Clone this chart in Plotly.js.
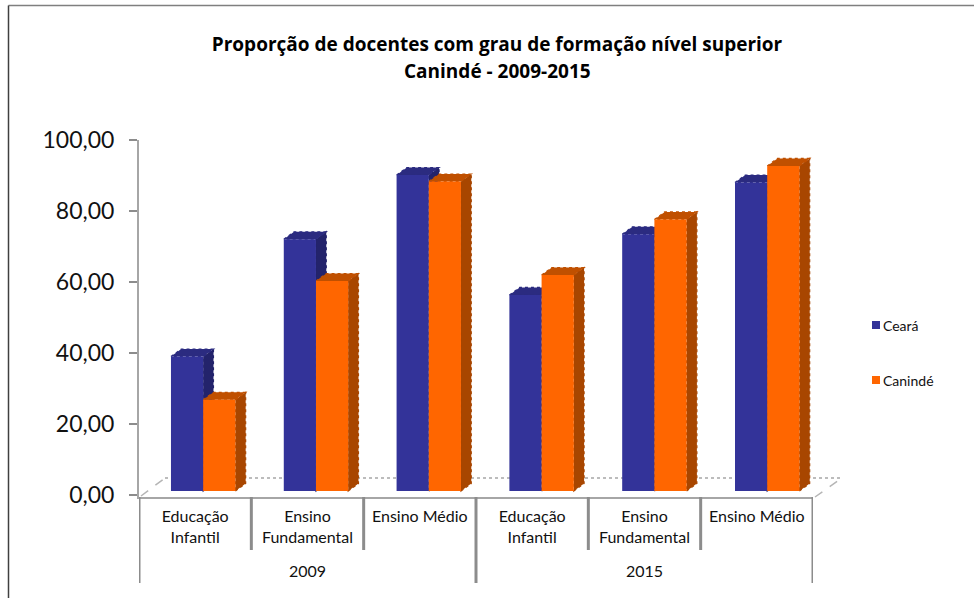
<!DOCTYPE html>
<html><head><meta charset="utf-8">
<script src="https://cdn.plot.ly/plotly-3.0.1.min.js"></script>
<style>html,body{margin:0;padding:0;background:#fff}</style></head>
<body><div id="chart" style="width:974px;height:598px"></div>
<script>
const categories = ["Educação<br>Infantil","Ensino<br>Fundamental","Ensino Médio","Educação<br>Infantil","Ensino<br>Fundamental","Ensino Médio"];
const positions = [0,1,2,3,4,5];
const years = ["2009","2015"];
const yearPositions = [1,4];
const ceara = [37.9,71.0,89.1,55.3,72.4,87.0];
const caninde = [25.7,59.2,87.3,60.9,76.6,91.7];
const yTicks = [0,20,40,60,80,100];

const W=974,H=598,L=139,R=813,T=140,B=497;
const ux=(R-L)/6, uy=3.545;
const barW=32.2/ux, offA=-0.2154, offB=offA+barW, base=1, drift=0.0042;
const dX=10.3/ux, dY=7.5/uy;
const px=v=>(v-L)/(R-L), py=v=>(B-v)/(B-T);
const c={a:"#333399",aSide:"#23236b",aTop:"#2b2b80",b:"#ff6600",bSide:"#a84600",bTop:"#c05000"};
const shapes=[];
function poly(points,color){
  const d="M"+points.map(p=>p[0]+","+p[1]).join(" L")+" Z";
  shapes.push({type:"path",xref:"x",yref:"y",path:d,fillcolor:color,layer:"below",
    line:{color:color,width:1.2,dash:"dot"}});
}
function box(x,v,off,side,top){
  const l=x+off+x*drift,r=l+barW,t=base+v;
  poly([[r,base],[r+dX,base+dY],[r+dX,t+dY],[r,t]],side);
  poly([[l,t],[l+dX,t+dY],[r+dX,t+dY],[r,t]],top);
}
shapes.push({type:"line",xref:"paper",yref:"paper",x0:px(165),x1:px(842),y0:py(478),y1:py(478),layer:"below",line:{color:"#a6a6a6",width:1.5,dash:"dot"}});
shapes.push({type:"line",xref:"paper",yref:"paper",x0:px(141),x1:px(165),y0:py(496),y1:py(478),layer:"below",line:{color:"#b5b5b5",width:1.5,dash:"dash"}});
shapes.push({type:"line",xref:"paper",yref:"paper",x0:px(815),x1:px(842),y0:py(497),y1:py(478),layer:"below",line:{color:"#b5b5b5",width:1.5,dash:"dash"}});
positions.forEach((x,i)=>box(x,ceara[i],offA,c.aSide,c.aTop));
positions.forEach((x,i)=>box(x,caninde[i],offB,c.bSide,c.bTop));
[0.5,1.5,3.5,4.5].forEach(x=>shapes.push({type:"line",xref:"x",yref:"paper",x0:x,x1:x,y0:py(497),y1:py(550),line:{color:"#8c8c8c",width:3}}));
[-0.5,2.5,5.5].forEach(x=>shapes.push({type:"line",xref:"x",yref:"paper",x0:x,x1:x,y0:py(497),y1:py(583),line:{color:"#8c8c8c",width:3}}));
shapes.push({type:"line",xref:"paper",yref:"paper",x0:px(8.5),x1:px(974),y0:py(5.5),y1:py(5.5),line:{color:"#7f7f7f",width:1.5}});
shapes.push({type:"line",xref:"paper",yref:"paper",x0:px(8.5),x1:px(8.5),y0:py(5.5),y1:py(598),line:{color:"#404040",width:1.5}});
[[c.a,325],[c.b,380]].forEach(s=>shapes.push({type:"rect",xref:"paper",yref:"paper",x0:px(872),x1:px(880),y0:py(s[1]-4),y1:py(s[1]+4),fillcolor:s[0],line:{width:0}}));

const font="Lato, 'Liberation Sans', sans-serif";
const titleFont="'Open Sans', Lato, sans-serif";
const annotations=[];
annotations.push({text:"<b>Canindé - 2009-2015</b>",xref:"paper",yref:"paper",x:px(497),y:py(71),showarrow:false,xanchor:"center",yanchor:"middle",font:{family:titleFont,size:19,color:"#000"}});
years.forEach((t,i)=>annotations.push({text:t,xref:"x",yref:"paper",x:yearPositions[i],y:py(570),showarrow:false,xanchor:"center",yanchor:"middle",font:{family:font,size:16,color:"#111"}}));
[["Ceará",325],["Canindé",380]].forEach(s=>annotations.push({text:s[0],xref:"paper",yref:"paper",x:px(883),y:py(s[1]),showarrow:false,xanchor:"left",yanchor:"middle",xshift:-2,font:{family:font,size:14,color:"#111"}}));

const traces=[
 {type:"bar",name:"Ceará",x:positions,y:ceara,base:base,width:barW,offset:positions.map(x=>offA+x*drift),marker:{color:c.a,line:{width:0}}},
 {type:"bar",name:"Canindé",x:positions,y:caninde,base:base,width:barW,offset:positions.map(x=>offB+x*drift),marker:{color:c.b,line:{width:0}}}
];
const layout={
 width:W,height:H,showlegend:false,barmode:"overlay",separators:",.",
 paper_bgcolor:"#fff",plot_bgcolor:"rgba(0,0,0,0)",
 margin:{l:L,r:W-R,t:T,b:H-B,pad:0},
 title:{text:"<b>Proporção de docentes com grau de formação nível superior</b>",x:497/W,xanchor:"center",y:1-44/H,yanchor:"middle",font:{family:titleFont,size:19,color:"#000"}},
 xaxis:{range:[-0.5,5.5],tickmode:"array",tickvals:positions,ticktext:categories,ticks:"",showgrid:false,zeroline:false,showline:true,linecolor:"#a6a6a6",linewidth:2,tickangle:0,ticklabelstandoff:4,tickfont:{family:font,size:16,color:"#111"}},
 yaxis:{range:[-0.7,100],tickmode:"array",tickvals:yTicks,tickformat:".2f",ticks:"outside",ticklen:8,tickwidth:2,tickcolor:"#8c8c8c",showgrid:false,zeroline:false,showline:true,linecolor:"#a6a6a6",linewidth:2,ticklabelstandoff:10,tickfont:{family:font,size:23,color:"#111"}},
 shapes:shapes,annotations:annotations
};
Plotly.newPlot("chart",traces,layout,{displayModeBar:false,staticPlot:true});
</script></body></html>
